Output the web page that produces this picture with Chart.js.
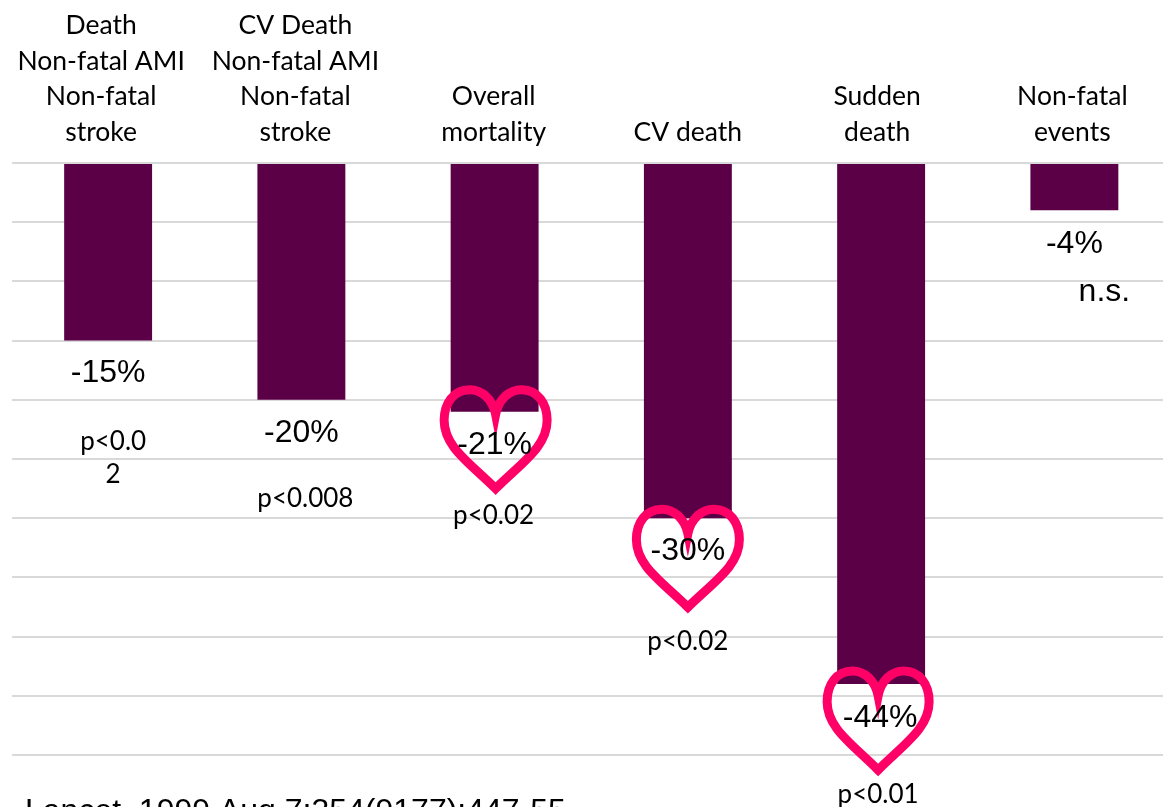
<!DOCTYPE html>
<html><head><meta charset="utf-8">
<style>html,body{margin:0;padding:0;background:#fff;overflow:hidden;width:1163px;height:807px}canvas{display:block}</style>
<script src="https://cdn.jsdelivr.net/npm/chart.js@4"></script>
</head><body><canvas id="c" width="1172" height="807"></canvas>
<script>
const categories = [
  ["Death","Non-fatal AMI","Non-fatal","stroke"],
  ["CV Death","Non-fatal AMI","Non-fatal","stroke"],
  ["Overall","mortality"],
  ["CV death"],
  ["Sudden","death"],
  ["Non-fatal","events"]
];
const reduction = [-15,-20,-21,-30,-44,-4];
const valueLabels = ["-15%","-20%","-21%","-30%","-44%","-4%"];
const pLabels = [["p<0.0","2"],["p<0.008"],["p<0.02"],["p<0.02"],["p<0.01"],[]];
const extraLabel = "n.s.";
const citation = "Lancet. 1999 Aug 7;354(9177):447-55.";
const hearted = [false,false,true,true,true,false];

// label placement relative to bar end/centre (pixels)
const tickShift = [-7,-6,-1,0,-4,-2];
const valueOffset = [[0,33],[0,33],[0,34],[0,33],[-1,34],[0,34]];
const pOffset = [[5,101],[4,99],[-1,104],[0,123],[-3,111],[0,0]];
const heartBox = [null,null,[1,-27,113,109],[0,-14,113,108],[-3,-18,112,109],null];

function heart(ctx,cx,top,w,h){
  const s=5; // half stroke
  const W=w-2*s,H=h-2*s,t=top+s,hw=W/2;
  ctx.beginPath();
  ctx.moveTo(cx,t+H*0.25);
  ctx.bezierCurveTo(cx-hw*0.06,t+H*0.09,cx-hw*0.28,t,cx-hw*0.50,t);
  ctx.bezierCurveTo(cx-hw*0.82,t,cx-hw,t+H*0.14,cx-hw,t+H*0.31);
  ctx.bezierCurveTo(cx-hw,t+H*0.58,cx-hw*0.50,t+H*0.74,cx,t+H);
  ctx.bezierCurveTo(cx+hw*0.50,t+H*0.74,cx+hw,t+H*0.58,cx+hw,t+H*0.31);
  ctx.bezierCurveTo(cx+hw,t+H*0.14,cx+hw*0.82,t,cx+hw*0.50,t);
  ctx.bezierCurveTo(cx+hw*0.28,t,cx+hw*0.06,t+H*0.09,cx,t+H*0.25);
  ctx.closePath();
  ctx.lineWidth=9; ctx.lineJoin='miter'; ctx.miterLimit=20; ctx.strokeStyle='#FF0066';
  ctx.stroke();
}

const annotate = {
  id:'annotate',
  beforeDraw(chart){
    // nudge each axis label sideways, as in the reference
    chart.scales.x.getLabelItems().forEach((item,i)=>{
      if(!item.__shifted){ item.options.translation[0]+=tickShift[i]; item.__shifted=true; }
    });
  },
  afterDatasetsDraw(chart){
    const {ctx,scales:{x,y}}=chart;
    ctx.save();
    ctx.textAlign='center'; ctx.textBaseline='middle';
    reduction.forEach((v,i)=>{
      const cx=x.getPixelForValue(i), end=y.getPixelForValue(v);
      if(hearted[i]){const b=heartBox[i]; heart(ctx,cx+b[0],end+b[1],b[2],b[3]);}
      ctx.fillStyle='#000';
      ctx.font='32px "Liberation Sans"';
      ctx.fillText(valueLabels[i],cx+valueOffset[i][0],end+valueOffset[i][1]);
      ctx.font='26px Lato';
      pLabels[i].forEach((t,k)=>{
        ctx.fillText(t,cx+pOffset[i][0],end+pOffset[i][1]+k*33);
      });
    });
    ctx.font='32px "Liberation Sans"';
    ctx.fillText(extraLabel,x.getPixelForValue(5)+30,y.getPixelForValue(-4)+82);
    ctx.textAlign='left'; ctx.textBaseline='alphabetic';
    ctx.font='32px "Liberation Sans"';
    ctx.fillText(citation,25,821);
    ctx.restore();
  }
};

new Chart(document.getElementById('c'),{
  type:'bar',
  data:{labels:categories,datasets:[{data:reduction,backgroundColor:'#5B0047',barPercentage:0.91,categoryPercentage:0.5}]},
  plugins:[annotate],
  options:{
    responsive:false,animation:false,
    layout:{padding:{bottom:52,left:0,right:1,top:0}},
    plugins:{legend:{display:false},tooltip:{enabled:false}},
    scales:{
      x:{position:'top',
        grid:{display:false},border:{display:false},
        ticks:{color:'#000',maxRotation:0,minRotation:0,autoSkip:false,padding:5,
          font:{family:'Lato',size:26.5,lineHeight:1.34}},
        afterFit(s){s.height=163;}
      },
      y:{min:-50,max:0,
        grid:{color:'#D9D9D9',lineWidth:2,drawTicks:false},border:{display:false},
        ticks:{display:false,stepSize:5},
        afterFit(s){s.width=11.5;}
      }
    }
  }
});
</script></body></html>
